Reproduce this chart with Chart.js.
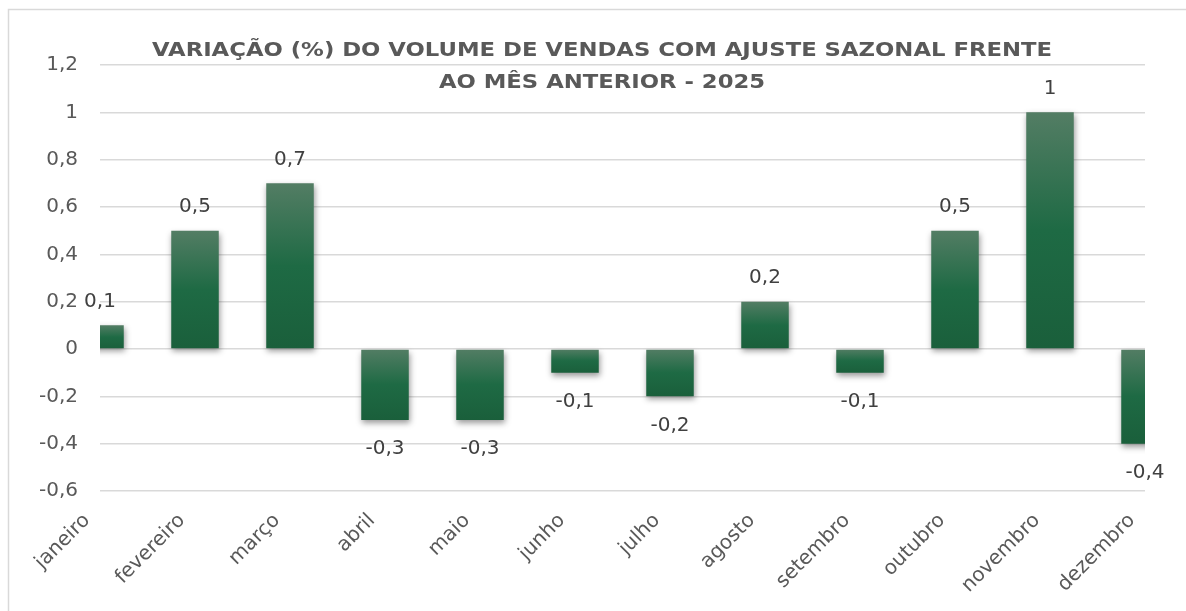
<!DOCTYPE html>
<html><head><meta charset="utf-8">
<script src="https://cdn.jsdelivr.net/npm/chart.js@4.4.1/dist/chart.umd.min.js"></script>
<style>html,body{margin:0;padding:0;background:#fff;overflow:hidden}canvas{display:block}</style>
</head><body>
<canvas id="c" width="1186" height="611"></canvas>
<script>
const categories = ['janeiro','fevereiro','março','abril','maio','junho','julho','agosto','setembro','outubro','novembro','dezembro'];
const values = [0.1, 0.5, 0.7, -0.3, -0.3, -0.1, -0.2, 0.2, -0.1, 0.5, 1, -0.4];
const yMin = -0.6, yMax = 1.2, yStep = 0.2;
const titleLines = ['VARIAÇÃO (%) DO VOLUME DE VENDAS COM AJUSTE SAZONAL FRENTE', 'AO MÊS ANTERIOR - 2025'];

const FONT = "'DejaVu Sans', sans-serif";
const fmt = v => String(Math.round(v * 10) / 10 || 0).replace('.', ',');

function barGradient(ctx) {
  const chart = ctx.chart, ys = chart.scales.y;
  if (!chart.chartArea || !ys || ctx.type !== 'data') return '#1e6b44';
  const v = ctx.raw;
  const top = ys.getPixelForValue(Math.max(v, 0)), bot = ys.getPixelForValue(Math.min(v, 0));
  if (!isFinite(top) || !isFinite(bot) || top === bot) return '#1e6b44';
  const g = chart.ctx.createLinearGradient(0, top, 0, bot);
  g.addColorStop(0, '#537d64');
  g.addColorStop(0.5, '#1e6a44');
  g.addColorStop(1, '#1a5f3b');
  return g;
}

const framePlugin = {
  id: 'frame',
  beforeDraw(chart) {
    const c = chart.ctx;
    c.save();
    c.strokeStyle = '#d9d9d9'; c.lineWidth = 1.5;
    c.beginPath(); c.moveTo(8.5, 611); c.lineTo(8.5, 9.5); c.lineTo(1186, 9.5); c.stroke();
    c.restore();
  },
  afterDraw(chart) {
    const c = chart.ctx;
    c.save();
    c.fillStyle = '#595959';
    c.font = 'bold 20px ' + FONT;
    c.textAlign = 'center'; c.textBaseline = 'alphabetic';
    const w = c.measureText(titleLines[0]).width;
    const sx = 900 / w;
    c.translate(602, 0); c.scale(sx, 1);
    c.fillText(titleLines[0], 0, 56);
    c.fillText(titleLines[1], 0, 88);
    c.restore();
  }
};
const shadowPlugin = {
  id: 'shadow',
  beforeDatasetsDraw(chart) {
    const c = chart.ctx; c.save();
    c.shadowColor = 'rgba(0,0,0,0.4)'; c.shadowBlur = 6; c.shadowOffsetX = 1; c.shadowOffsetY = 3;
  },
  afterDatasetsDraw(chart) { chart.ctx.restore(); }
};
const labelPlugin = {
  id: 'vlabels',
  afterDatasetsDraw(chart) {
    const c = chart.ctx; const meta = chart.getDatasetMeta(0);
    c.save();
    c.fillStyle = '#404040'; c.font = '20px ' + FONT;
    c.textAlign = 'center'; c.textBaseline = 'middle';
    meta.data.forEach((el, i) => {
      const v = values[i];
      c.fillText(fmt(v), el.x, v >= 0 ? el.y - 24 : el.y + 29);
    });
    c.restore();
  }
};

new Chart(document.getElementById('c'), {
  type: 'bar',
  data: { labels: categories, datasets: [{ data: values, backgroundColor: barGradient, borderWidth: 0, categoryPercentage: 0.5, barPercentage: 1 }] },
  options: {
    responsive: false, animation: false, devicePixelRatio: 1,
    layout: { padding: { left: 8, right: 41, top: 65, bottom: 0 } },
    plugins: { legend: { display: false }, tooltip: { enabled: false }, title: { display: false } },
    scales: {
      x: {
        offset: false,
        grid: { display: false }, border: { display: false },
        ticks: { autoSkip: false, minRotation: 45, maxRotation: 45, color: '#595959', font: { family: FONT, size: 20 }, padding: 10, labelOffset: -13 },
        afterFit(s) { s.height = 120; }
      },
      y: {
        min: yMin, max: yMax,
        grid: { color: '#d9d9d9', lineWidth: 1.5, drawTicks: false }, border: { display: false },
        ticks: { stepSize: yStep, color: '#595959', font: { family: FONT, size: 20 }, padding: 22, callback: v => fmt(v) },
        afterFit(s) { s.width = 92; }
      }
    }
  },
  plugins: [framePlugin, shadowPlugin, labelPlugin]
});
</script>
</body></html>
